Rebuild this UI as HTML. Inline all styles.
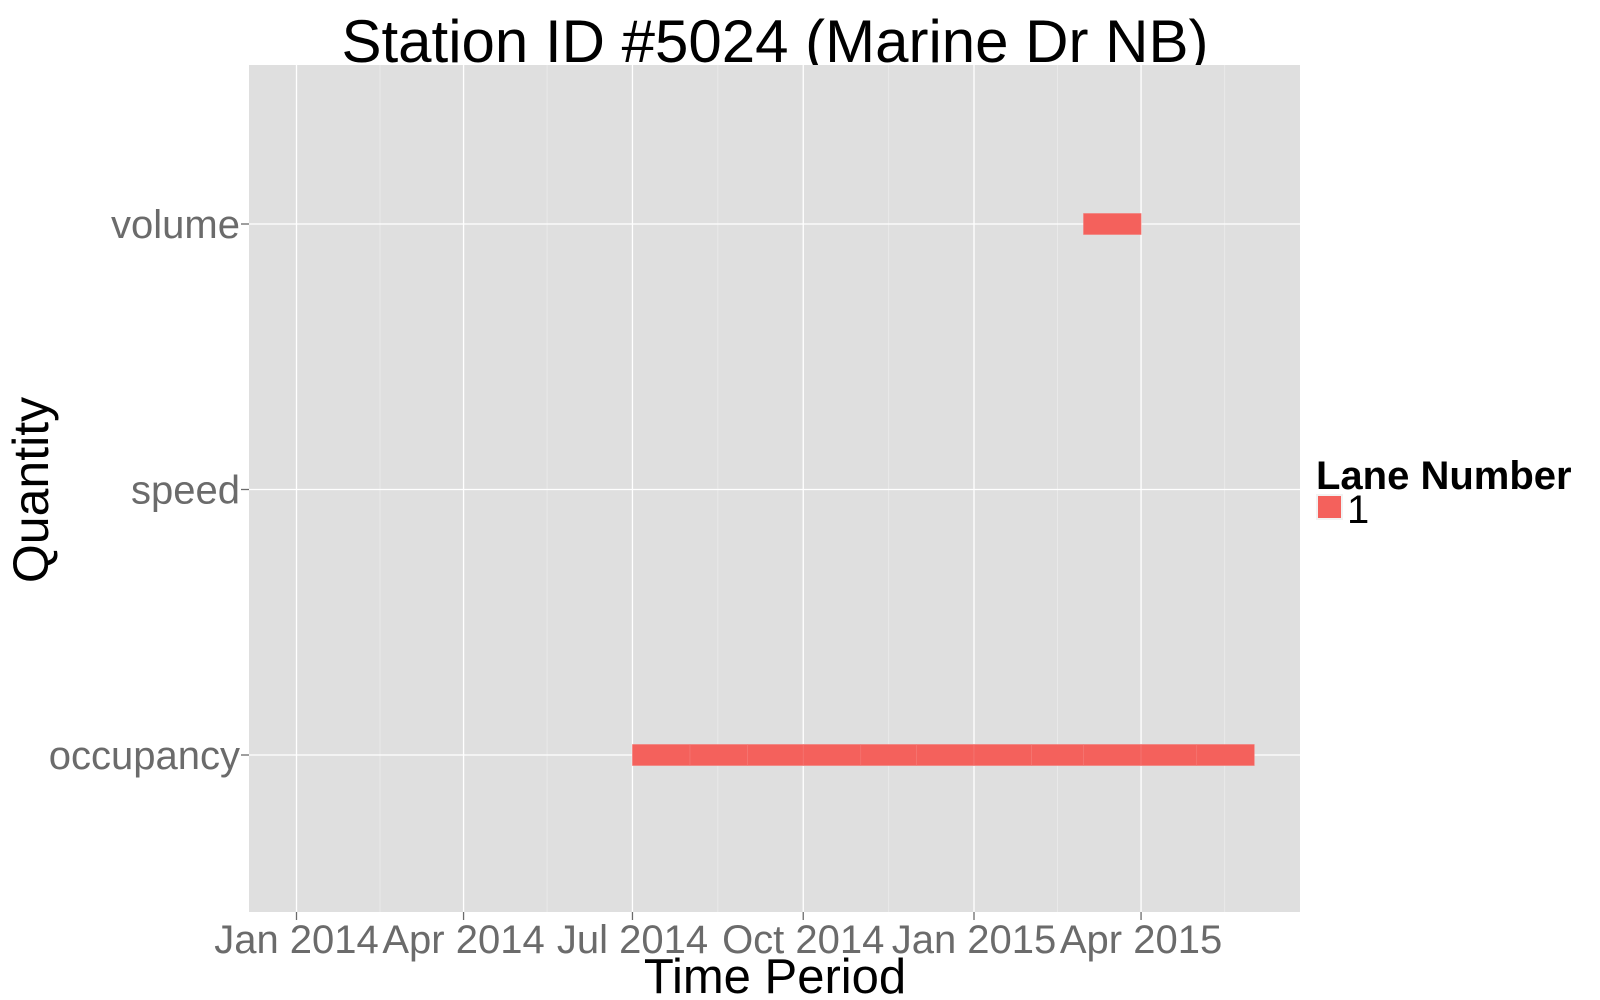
<!DOCTYPE html>
<html><head><meta charset="utf-8"><style>
html,body{margin:0;padding:0;background:#fff;}
svg{display:block;font-family:"Liberation Sans",sans-serif;}
</style></head><body>
<svg id="chart" width="1600" height="1000" viewBox="0 0 1600 1000">
<text x="775" y="62" font-size="60" text-anchor="middle" fill="#000">Station ID #5024 (Marine Dr NB)</text>
<rect x="249" y="65" width="1051" height="847" fill="#dfdfdf"/>
<g id="grid"></g>
<g id="bars"></g>
<g id="axes"></g>
<text x="775" y="993" font-size="49" text-anchor="middle" fill="#000">Time Period</text>
<text transform="translate(48,490) rotate(-90)" font-size="50" text-anchor="middle" fill="#000">Quantity</text>
<g>
<text x="1316" y="489" font-size="40" font-weight="bold" fill="#000">Lane Number</text>
<rect x="1316" y="494" width="27" height="26" fill="#f2f2f2"/>
<rect x="1318" y="496" width="23" height="22" fill="#f4615c"/>
<text x="1347" y="523" font-size="40" fill="#000">1</text>
</g>
</svg>
<script>
const categories = ["occupancy","speed","volume"];
const tickLabels = ["Jan 2014","Apr 2014","Jul 2014","Oct 2014","Jan 2015","Apr 2015"];
const tickDates = ["2014-01-01","2014-04-01","2014-07-01","2014-10-01","2015-01-01","2015-04-01"];
const minorDates = ["2014-02-15","2014-05-16","2014-08-16","2014-11-16","2015-02-15","2015-05-16"];
const tileQuantity = ["occupancy","occupancy","occupancy","occupancy","occupancy","occupancy","occupancy","occupancy","occupancy","occupancy","occupancy","volume"];
const tileStart = ["2014-07-01","2014-08-01","2014-09-01","2014-10-01","2014-11-01","2014-12-01","2015-01-01","2015-02-01","2015-03-01","2015-04-01","2015-05-01","2015-03-01"];
const tileEnd = ["2014-08-01","2014-09-01","2014-10-01","2014-11-01","2014-12-01","2015-01-01","2015-02-01","2015-03-01","2015-04-01","2015-05-01","2015-06-01","2015-04-01"];

const NS="http://www.w3.org/2000/svg";
const day0=Date.UTC(2014,0,1);
function days(s){const p=s.split("-");return (Date.UTC(+p[0],+p[1]-1,+p[2])-day0)/86400000;}
const pxPerDay=(974-296.5)/365;
function xScale(s){return 296.5+days(s)*pxPerDay;}
function yScale(c){const i=categories.indexOf(c);return 755-i*265.5;}
function mk(tag,attrs,parent){const e=document.createElementNS(NS,tag);for(const k in attrs)e.setAttribute(k,attrs[k]);parent.appendChild(e);return e;}
const grid=document.getElementById("grid"),bars=document.getElementById("bars"),axes=document.getElementById("axes");
minorDates.forEach(d=>{const x=xScale(d);if(x>249&&x<1300){
const l=mk("line",{x1:x,x2:x,y1:65,y2:912,stroke:"#e9e9e9","stroke-width":1},grid);

}});
tickDates.forEach((d,i)=>{const x=xScale(d);
const l=mk("line",{x1:x,x2:x,y1:65,y2:912,stroke:"#fff","stroke-width":1.3},grid);


const t=mk("line",{x1:x,x2:x,y1:912,y2:920,stroke:"#6b6b6b","stroke-width":1.3},axes);


const tx=mk("text",{x:x,y:953,"font-size":40,"text-anchor":"middle",fill:"#6b6b6b"},axes);
tx.textContent=tickLabels[i];

});
categories.forEach(c=>{const y=yScale(c);
const l=mk("line",{x1:249,x2:1300,y1:y,y2:y,stroke:"#fff","stroke-width":1.3},grid);


const t=mk("line",{x1:241,x2:249,y1:y,y2:y,stroke:"#6b6b6b","stroke-width":1.3},axes);


const tx=mk("text",{x:240,y:y+14,"font-size":40,"text-anchor":"end",fill:"#6b6b6b"},axes);
tx.textContent=c;

});
tileQuantity.forEach((q,i)=>{const x1=xScale(tileStart[i]),x2=xScale(tileEnd[i]),y=yScale(q);
const r=mk("rect",{x:x1,y:y-10.5,width:x2-x1,height:21,fill:"#f4615c",stroke:"#f47a76","stroke-width":0.6},bars);

});
</script>
</body></html>
